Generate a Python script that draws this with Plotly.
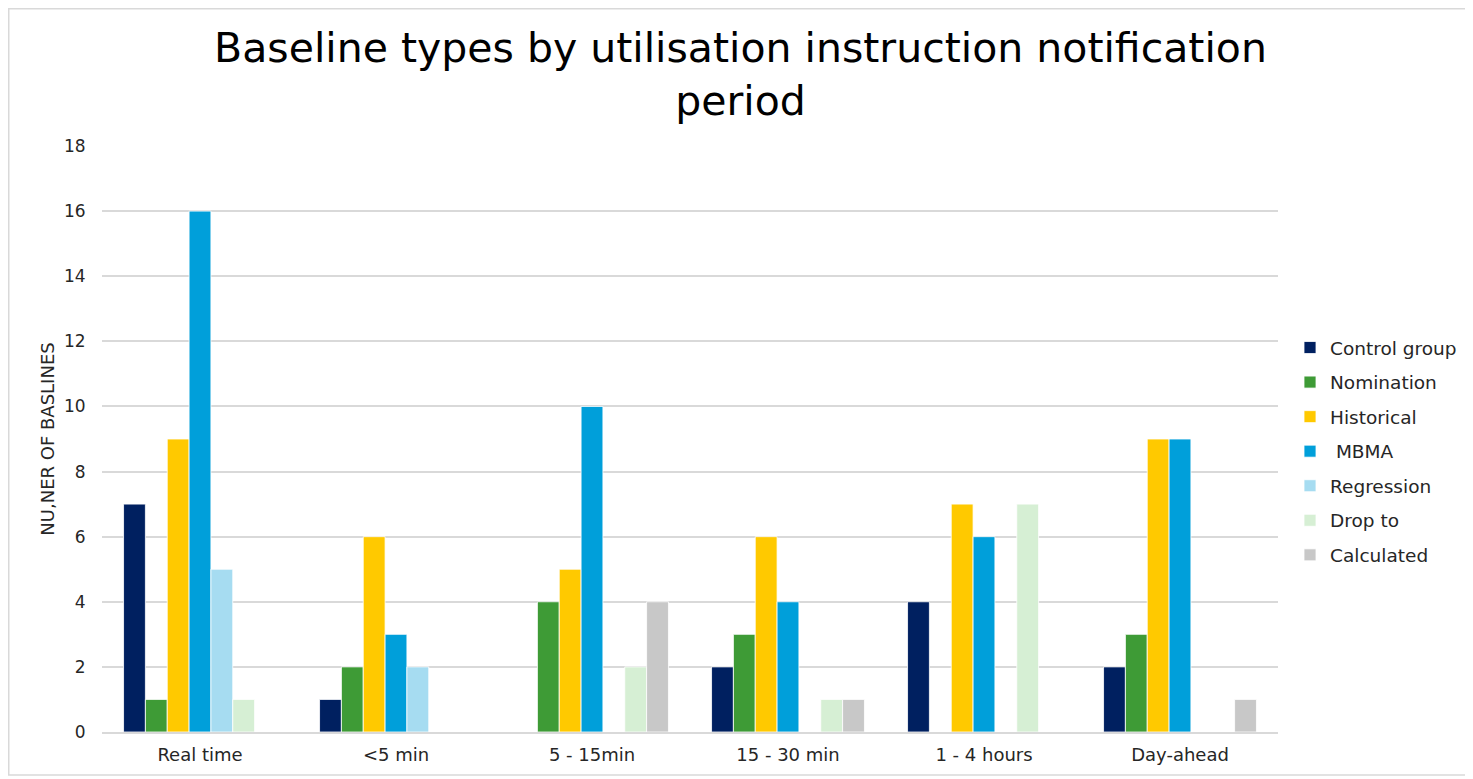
import plotly.graph_objects as go

categories = ["Real time", "<5 min", "5 - 15min", "15 - 30 min", "1 - 4 hours", "Day-ahead"]
series_names = ["Control group", "Nomination", "Historical", " MBMA", "Regression", "Drop to", "Calculated"]
control_group = [7, 1, 0, 2, 4, 2]
nomination = [1, 2, 4, 3, 0, 3]
historical = [9, 6, 5, 6, 7, 9]
mbma = [16, 3, 10, 4, 6, 9]
regression = [5, 2, 0, 0, 0, 0]
drop_to = [1, 0, 2, 1, 7, 0]
calculated = [0, 0, 4, 1, 0, 1]
y_ticks = [0, 2, 4, 6, 8, 10, 12, 14, 16, 18]

series_values = [control_group, nomination, historical, mbma, regression, drop_to, calculated]
colors = ["#002060", "#3e9b36", "#ffc900", "#009fda", "#a6dcf1", "#d6efd4", "#c8c8c8"]

FONT = "DejaVu Sans"

# page body has an 8px margin; figure spans 8..1473 x 8..779
W, H = 1465, 771
L, R, T, B = 94, 195, 138, 47
PW, PH = W - L - R, H - T - B

fig = go.Figure()
for i, (name, vals, col) in enumerate(zip(series_names, series_values, colors)):
    fig.add_trace(go.Bar(
        x=categories, y=vals, name=name,
        marker=dict(color=col, line=dict(color="white", width=0.8)),
        legendgroup=f"g{i}",
    ))

fig.update_layout(
    width=W, height=H,
    paper_bgcolor="white", plot_bgcolor="white",
    barmode="group", bargap=0.22, bargroupgap=0,
    margin=dict(l=L, r=R, t=T, b=B, pad=0),
    font=dict(family=FONT, color="#262626"),
    title=dict(
        text="Baseline types by utilisation instruction notification<br>period",
        x=0.5, xref="container", xanchor="center",
        y=1 - 54 / H, yref="container", yanchor="middle",
        font=dict(family=FONT, size=41, color="#000000"),
    ),
    xaxis=dict(
        tickfont=dict(size=18, color="#262626"),
        showgrid=False, showline=True, linecolor="#d9d9d9", linewidth=1.5,
        ticks="outside", ticklen=6, tickcolor="white",
    ),
    yaxis=dict(
        range=[0, 18], tickvals=y_ticks,
        tickfont=dict(size=17, color="#262626"),
        showgrid=True, gridcolor="#d9d9d9", gridwidth=1.5,
        zeroline=False, showline=False,
        ticks="outside", ticklen=12, tickcolor="white",
        title=dict(text="NU,NER OF BASLINES", font=dict(size=18, color="#262626"), standoff=4),
    ),
    legend=dict(
        xref="container", yref="container",
        x=1282 / W, xanchor="left", y=1 - (443.5) / H, yanchor="middle",
        font=dict(size=18.5, color="#262626"),
        tracegroupgap=7.5, itemwidth=30,
        bgcolor="rgba(0,0,0,0)",
    ),
    shapes=[dict(
        type="rect", xref="paper", yref="paper",
        x0=-(L - 0.75) / PW, x1=(1458 - L) / PW,
        y0=-(767 - (H - B)) / PH, y1=(H - B - 0.75) / PH,
        line=dict(color="#d9d9d9", width=1.5), fillcolor="rgba(0,0,0,0)", layer="below",
    )],
)

fig.write_html("out.html")
